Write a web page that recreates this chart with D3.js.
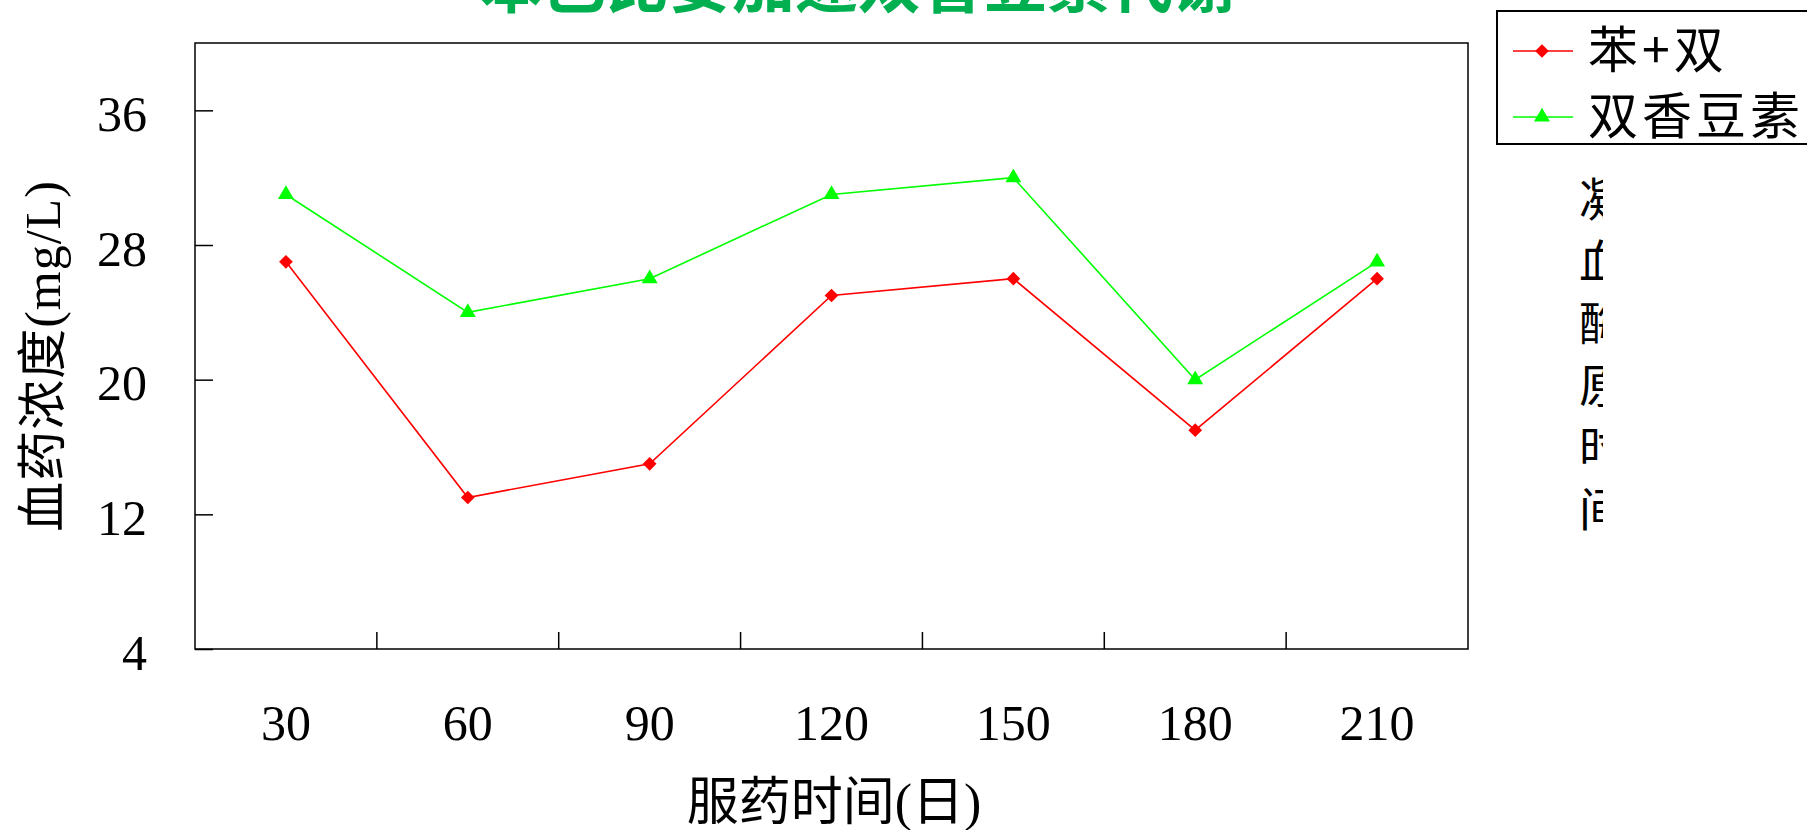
<!DOCTYPE html>
<html>
<head>
<meta charset="utf-8">
<script src="https://cdn.jsdelivr.net/npm/d3@7"></script>
<style>
  html, body { margin: 0; padding: 0; background: #fff; }
  svg { display: block; }
</style>
</head>
<body>
<svg id="chart" width="1807" height="830"></svg>
<script>
// Days of medication (x categories)
const categories = ["30", "60", "90", "120", "150", "180", "210"];
// Blood drug concentration (mg/L)
const seriesNames = ["苯+双", "双香豆素"];
const combinedValues = [27, 13, 15, 25, 26, 17, 26];   // 苯+双
const dicoumarolValues = [31, 24, 26, 31, 32, 20, 27]; // 双香豆素
const yTickValues = [4, 12, 20, 28, 36];
const titleText = "苯巴比妥加速双香豆素代谢";
const sideLabelChars = ["凝", "血", "酶", "原", "时", "间"];

const serif = "'Liberation Serif', 'Noto Sans CJK SC', serif";
const cjk = "'Noto Sans CJK SC', 'Liberation Serif', sans-serif";

const svg = d3.select("#chart");
const plot = { left: 195, right: 1468, top: 43, bottom: 649 };

const x = d3.scaleBand().domain(categories).range([plot.left, plot.right]);
const y = d3.scaleLinear().domain([4, 40]).range([plot.bottom, plot.top]);

// Title (sits partly above the visible page)
svg.append("text")
  .attr("x", 858).attr("y", 7)
  .attr("text-anchor", "middle")
  .attr("font-family", cjk)
  .attr("font-size", 63)
  .attr("font-weight", "bold")
  .attr("fill", "#00b050")
  .text(titleText);

// Plot frame
svg.append("rect")
  .attr("x", plot.left).attr("y", plot.top)
  .attr("width", plot.right - plot.left).attr("height", plot.bottom - plot.top)
  .attr("fill", "none").attr("stroke", "#000").attr("stroke-width", 1.5);

// Y axis: inward ticks
const yAxis = svg.append("g")
  .attr("transform", `translate(${plot.left},0)`)
  .call(d3.axisLeft(y).tickValues(yTickValues).tickSize(-18).tickPadding(48));
yAxis.select(".domain").remove();
yAxis.selectAll(".tick line").attr("stroke", "#000").attr("stroke-width", 1.5);
yAxis.selectAll(".tick text")
  .attr("font-family", serif).attr("font-size", 50).attr("fill", "#000")
  .attr("dy", "0.4em");

// X axis labels at band centres
const xAxis = svg.append("g")
  .attr("transform", `translate(0,${plot.bottom})`)
  .call(d3.axisBottom(x).tickSize(0).tickPadding(55));
xAxis.select(".domain").remove();
xAxis.selectAll(".tick text")
  .attr("font-family", serif).attr("font-size", 50).attr("fill", "#000");

// X ticks at band boundaries, pointing inward
svg.append("g").selectAll("line")
  .data(categories.slice(1))
  .join("line")
  .attr("x1", d => x(d)).attr("x2", d => x(d))
  .attr("y1", plot.bottom).attr("y2", plot.bottom - 17)
  .attr("stroke", "#000").attr("stroke-width", 1.5);

// Axis titles
svg.append("text")
  .attr("x", 834).attr("y", 820)
  .attr("text-anchor", "middle")
  .attr("font-family", serif)
  .attr("font-size", 52)
  .attr("fill", "#000")
  .text("服药时间(日)");

svg.append("text")
  .attr("transform", "translate(60,356) rotate(-90)")
  .attr("text-anchor", "middle")
  .attr("font-family", serif)
  .attr("font-size", 50)
  .attr("letter-spacing", 1)
  .attr("fill", "#000")
  .text("血药浓度(mg/L)");

// Series
const series = [
  { name: seriesNames[0], values: combinedValues, color: "#ff0000", symbol: d3.symbolDiamond2, size: 120 },
  { name: seriesNames[1], values: dicoumarolValues, color: "#00ff00", symbol: d3.symbolTriangle, size: 110 }
];

const cx = d => x(d) + x.bandwidth() / 2;
const line = d3.line().x(d => cx(d.cat)).y(d => y(d.v));

series.forEach(s => {
  const pts = categories.map((c, i) => ({ cat: c, v: s.values[i] }));
  svg.append("path")
    .datum(pts)
    .attr("d", line)
    .attr("fill", "none")
    .attr("stroke", s.color)
    .attr("stroke-width", 1.6);
  svg.append("g").selectAll("path")
    .data(pts)
    .join("path")
    .attr("transform", d => `translate(${cx(d.cat)},${y(d.v)})`)
    .attr("d", d3.symbol().type(s.symbol).size(s.size))
    .attr("fill", s.color);
});

// Legend (box runs off the right edge)
const legend = svg.append("g");
legend.append("rect")
  .attr("x", 1497).attr("y", 11)
  .attr("width", 330).attr("height", 133)
  .attr("fill", "#fff").attr("stroke", "#000").attr("stroke-width", 2);

const legendRows = [51, 117];
series.forEach((s, i) => {
  const ly = legendRows[i];
  legend.append("line")
    .attr("x1", 1513).attr("x2", 1573).attr("y1", ly).attr("y2", ly)
    .attr("stroke", s.color).attr("stroke-width", 1.6);
  legend.append("path")
    .attr("transform", `translate(1542,${ly})`)
    .attr("d", d3.symbol().type(s.symbol).size(s.size))
    .attr("fill", s.color);
  legend.append("text")
    .attr("x", 1588).attr("y", ly + 17)
    .attr("font-family", cjk)
    .attr("font-size", 50)
    .attr("letter-spacing", 4)
    .attr("fill", "#000")
    .text(s.name);
});

// Vertical side label, partly hidden on its right half
svg.append("defs").append("clipPath").attr("id", "sideClip")
  .append("rect").attr("x", 1560).attr("y", 150).attr("width", 43).attr("height", 420);
svg.append("g").attr("clip-path", "url(#sideClip)")
  .selectAll("text")
  .data(sideLabelChars)
  .join("text")
  .attr("x", 1579)
  .attr("y", (d, i) => 216 + i * 62)
  .attr("font-family", cjk)
  .attr("font-size", 46)
  .attr("fill", "#000")
  .text(d => d);
</script>
</body>
</html>
